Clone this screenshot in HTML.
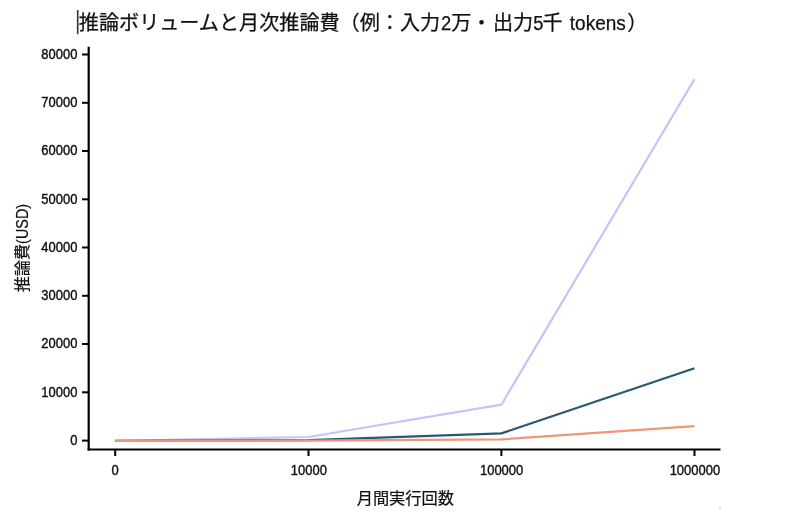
<!DOCTYPE html>
<html lang="ja">
<head>
<meta charset="utf-8">
<title>推論ボリュームと月次推論費</title>
<style>
html,body{margin:0;padding:0;background:#fff;}
body{width:800px;height:521px;overflow:hidden;position:relative;font-family:"Liberation Sans","Noto Sans CJK JP",sans-serif;}
svg{position:absolute;left:0;top:0;display:block;}
text{font-family:"Liberation Sans","Noto Sans CJK JP",sans-serif;fill:#111;}
.tick{font-size:14px;stroke:#111;stroke-width:0.4px;}
.lbl{stroke:#111;stroke-width:0.2px;}
.ttl{font-size:20.13px;stroke:#111;stroke-width:0.25px;}
</style>
</head>
<body>
<svg width="800" height="521" viewBox="0 0 800 521">
  <rect x="0" y="0" width="800" height="521" fill="#ffffff"/>
  <!-- title -->
  <rect x="76.9" y="10" width="1.6" height="24.2" fill="#333"/>
  <text class="ttl" y="29.7"><tspan x="78.8">推論ボリュームと月次推論費（例：入力</tspan><tspan x="441.1" textLength="10.2" lengthAdjust="spacingAndGlyphs">2</tspan><tspan x="451.3">万・</tspan><tspan x="493">出力</tspan><tspan x="533.2" textLength="10.2" lengthAdjust="spacingAndGlyphs">5</tspan><tspan x="542.5">千</tspan><tspan x="569.8" textLength="56" lengthAdjust="spacingAndGlyphs">tokens</tspan><tspan x="627.2">）</tspan></text>

  <!-- series -->
  <polyline fill="none" stroke="#c4c4fa" stroke-width="2.2" stroke-linejoin="round" points="115.2,440.8 308.5,437 501.4,404.6 694.5,79.1"/>
  <polyline fill="none" stroke="#2a5874" stroke-width="2.2" stroke-linejoin="round" points="115.2,440.9 308.5,440.1 501.4,433.4 694.5,368.3"/>
  <polyline fill="none" stroke="#f0957a" stroke-width="2.2" stroke-linejoin="round" points="115.2,440.9 308.5,440.7 501.4,439.4 694.5,426.2"/>

  <rect x="719.3" y="507.3" width="1.4" height="1.4" fill="#b0b0b0"/>
  <!-- axes -->
  <g stroke="#000" stroke-width="2.2" fill="none">
    <line x1="88.7" y1="46.8" x2="88.7" y2="450.6"/>
    <line x1="87.6" y1="449.5" x2="720.5" y2="449.5"/>
  </g>
  <g stroke="#000" stroke-width="2">
    <line x1="82" y1="54.5" x2="88" y2="54.5"/>
    <line x1="82" y1="102.8" x2="88" y2="102.8"/>
    <line x1="82" y1="151" x2="88" y2="151"/>
    <line x1="82" y1="199.3" x2="88" y2="199.3"/>
    <line x1="82" y1="247.5" x2="88" y2="247.5"/>
    <line x1="82" y1="295.8" x2="88" y2="295.8"/>
    <line x1="82" y1="344" x2="88" y2="344"/>
    <line x1="82" y1="392.3" x2="88" y2="392.3"/>
    <line x1="82" y1="440.6" x2="88" y2="440.6"/>
    <line x1="115.2" y1="449.5" x2="115.2" y2="456"/>
    <line x1="308.5" y1="449.5" x2="308.5" y2="456"/>
    <line x1="501.4" y1="449.5" x2="501.4" y2="456"/>
    <line x1="694.5" y1="449.5" x2="694.5" y2="456"/>
  </g>
  <g class="tick" text-anchor="end" transform="scale(0.926,1)">
    <text x="83.59" y="58.9">80000</text>
    <text x="83.59" y="107.2">70000</text>
    <text x="83.59" y="155.4">60000</text>
    <text x="83.59" y="203.7">50000</text>
    <text x="83.59" y="251.9">40000</text>
    <text x="83.59" y="300.2">30000</text>
    <text x="83.59" y="348.4">20000</text>
    <text x="83.59" y="396.7">10000</text>
    <text x="83.59" y="445">0</text>
  </g>
  <g class="tick" text-anchor="middle" transform="scale(0.926,1)">
    <text x="124.41" y="474.6">0</text>
    <text x="333.59" y="474.6">10000</text>
    <text x="541.68" y="474.6">100000</text>
    <text x="750.43" y="474.6">1000000</text>
  </g>
  <text class="lbl" x="405.3" y="503.5" font-size="16.2" text-anchor="middle">月間実行回数</text>
  <text class="lbl" transform="translate(28,0) rotate(-90)" font-size="16.1"><tspan x="-292.3">推論費</tspan><tspan x="-243.9" textLength="40" lengthAdjust="spacingAndGlyphs">(USD)</tspan></text>
</svg>
</body>
</html>
